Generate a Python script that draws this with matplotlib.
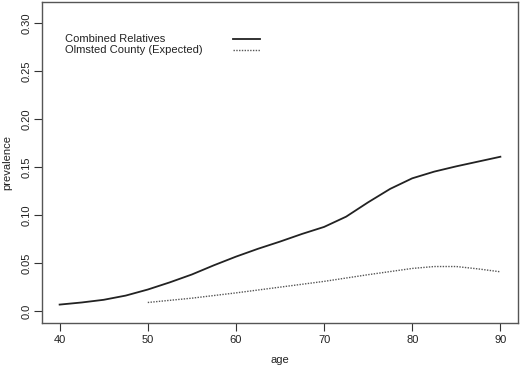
import matplotlib.pyplot as plt

plt.rcParams['font.family'] = ['Liberation Sans', 'DejaVu Sans']

# ── data ─────────────────────────────────────
age_rel = [40, 42.5, 45, 47.5, 50, 52.5, 55, 57.5, 60, 62.5, 65,
           67.5, 70, 72.5, 75, 77.5, 80, 82.5, 85, 87.5, 90]
prev_rel = [0.0068, 0.0090, 0.0118, 0.0162, 0.0225, 0.0300, 0.0382,
            0.0478, 0.0568, 0.0650, 0.0725, 0.0805, 0.0878, 0.0985,
            0.1135, 0.1275, 0.1385, 0.1455, 0.1510, 0.1560, 0.1610]

age_olm = [50, 55, 60, 65, 70, 75, 80, 82.5, 85, 87.5, 90]
prev_olm = [0.0090, 0.0135, 0.0190, 0.0250, 0.0310, 0.0380, 0.0445,
            0.0465, 0.0465, 0.0440, 0.0410]

labels = ['Combined Relatives', 'Olmsted County (Expected)']
x_ticks = [40, 50, 60, 70, 80, 90]
y_ticks = [0.0, 0.05, 0.10, 0.15, 0.20, 0.25, 0.30]
y_ticklabels = ['0.0', '0.05', '0.10', '0.15', '0.20', '0.25', '0.30']

# ── plot ──────────────────────────────────────
fig = plt.figure(figsize=(5.2, 3.67), dpi=100)
ax = fig.add_axes([42/520, 44/367, 476/520, 321/367])

ax.plot(age_rel, prev_rel, color='#222222', lw=1.3, solid_joinstyle='round')
ax.plot(age_olm, prev_olm, color='#555555', lw=1.0, linestyle=(0, (1, 1)))

# R-style 4% padding around data range
ax.set_xlim(38, 92)
ax.set_ylim(-0.0124, 0.3224)

ax.set_xticks(x_ticks)
ax.set_yticks(y_ticks)
ax.set_yticklabels(y_ticklabels, rotation=90, va='center')
ax.tick_params(direction='out', length=5.5, width=0.8, colors='#333333',
               labelsize=8, labelcolor='#222222')
ax.tick_params(axis='x', pad=3)
ax.tick_params(axis='y', pad=2)
for s in ax.spines.values():
    s.set_color('#555555')
    s.set_linewidth(1.0)

ax.set_xlabel('age', fontsize=8, color='#222222')
ax.set_ylabel('prevalence', fontsize=8, color='#222222')
# label positions in axes fraction (from pixel positions of the reference)
ax.xaxis.set_label_coords(0.5, -(360 - 323) / 321, transform=ax.transAxes)
ax.yaxis.set_label_coords(-(42 - 7) / 476, 0.5, transform=ax.transAxes)
ax.xaxis.label.set_va('center')
ax.yaxis.label.set_va('center')

# legend without box, text left and line samples to the right
styles = [('#222222', 1.3, '-'), ('#555555', 1.0, (0, (1, 1)))]
for i, (lab, style) in enumerate(zip(labels, styles)):
    ty = 0.886 - i * 0.034
    ax.text(0.048, ty, lab, transform=ax.transAxes, fontsize=8,
            color='#222222', va='center', ha='left')
    ax.plot([0.401, 0.458], [ty, ty], transform=ax.transAxes,
            color=style[0], lw=style[1], linestyle=style[2])

plt.savefig('out.png', dpi=100)
